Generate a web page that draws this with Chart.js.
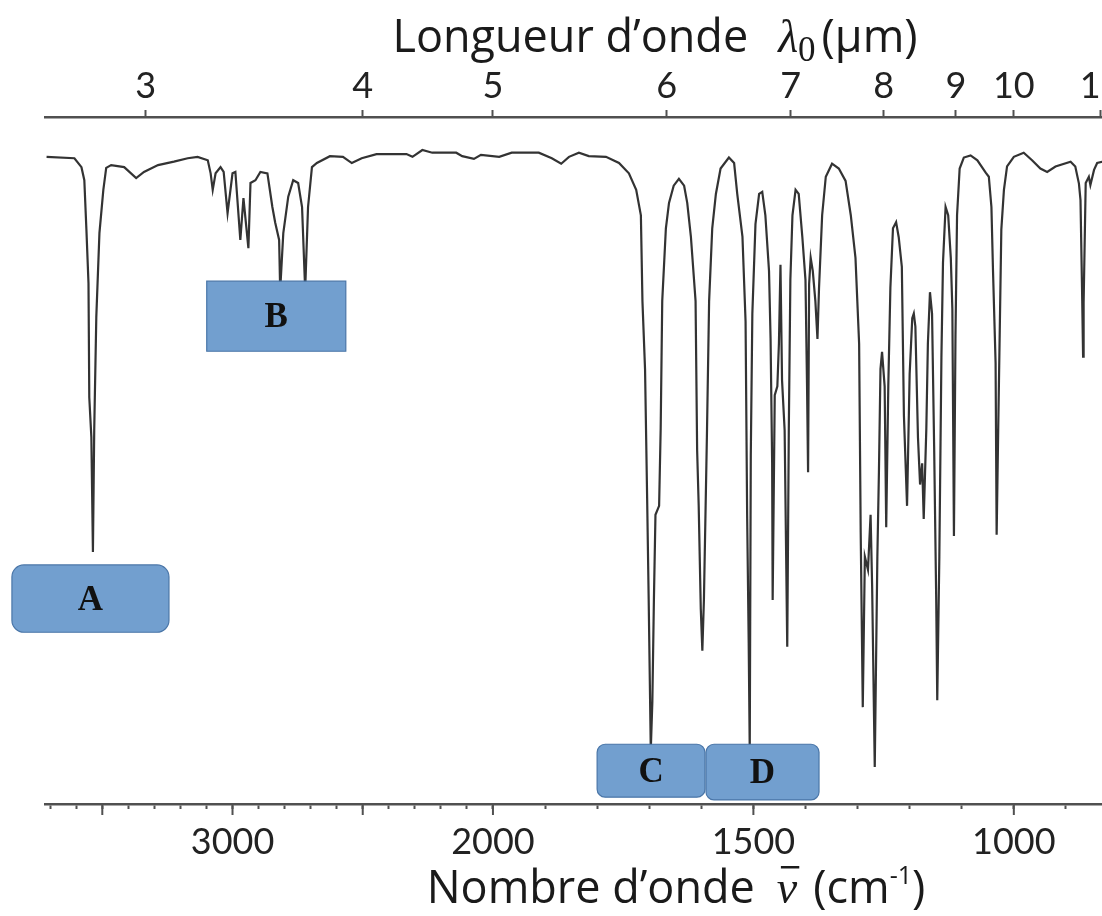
<!DOCTYPE html>
<html>
<head>
<meta charset="utf-8">
<title>Spectre IR</title>
<script src="https://cdn.jsdelivr.net/npm/chart.js@4.4.1/dist/chart.umd.min.js"></script>
<style>
    html, body { margin: 0; padding: 0; overflow: hidden; background: #fff; }
    #wrap { width: 1140px; height: 916px; }
</style>
</head>
<body>
<div id="wrap"><canvas id="spectre" width="1140" height="916"></canvas></div>
<script>
const waveNumbers = [
    3714, 3607, 3580, 3569, 3561, 3553, 3550, 3542, 3536, 3531,
    3523, 3511, 3496, 3485, 3466, 3416, 3370, 3340, 3286, 3225,
    3172, 3134, 3095, 3084, 3076, 3065, 3046, 3034, 3019, 3000,
    2989, 2970, 2958, 2939, 2931, 2912, 2893, 2866, 2847, 2836,
    2821, 2817, 2805, 2786, 2767, 2748, 2733, 2721, 2710, 2695,
    2676, 2626, 2576, 2542, 2504, 2447, 2332, 2309, 2271, 2233,
    2141, 2118, 2073, 2046, 1988, 1964, 1912, 1887, 1869, 1854,
    1835, 1816, 1783, 1758, 1739, 1725, 1716, 1713, 1708, 1704,
    1701, 1697, 1694, 1691, 1688, 1681, 1678, 1675, 1668, 1662,
    1653, 1643, 1633, 1627, 1620, 1611, 1608, 1605, 1601, 1598,
    1595, 1592, 1589, 1585, 1579, 1572, 1563, 1547, 1537, 1531,
    1521, 1515, 1512, 1509, 1507, 1505, 1502, 1496, 1489, 1483,
    1477, 1470, 1467, 1464, 1463, 1459, 1454, 1451, 1448, 1445,
    1440, 1435, 1432, 1429, 1425, 1419, 1413, 1406, 1400, 1397,
    1395, 1393, 1390, 1386, 1381, 1377, 1374, 1368, 1361, 1349,
    1336, 1323, 1313, 1304, 1297, 1294, 1290, 1286, 1280, 1275,
    1272, 1267, 1262, 1259, 1256, 1253, 1248, 1245, 1241, 1237,
    1232, 1226, 1221, 1215, 1211, 1205, 1200, 1195, 1192, 1189,
    1184, 1180, 1176, 1173, 1168, 1165, 1161, 1157, 1153, 1149,
    1147, 1143, 1139, 1136, 1131, 1126, 1121, 1118, 1115, 1112,
    1109, 1104, 1096, 1083, 1070, 1054, 1048, 1043, 1040, 1035,
    1033, 1030, 1027, 1024, 1019, 1013, 1000, 981, 965, 949,
    936, 920, 891, 882, 875, 872, 869, 867, 866, 862,
    856, 853, 846, 840, 818, 790
];

const transmittance = [
    94.2, 94.0, 92.7, 90.8, 83.6, 75.8, 59.2, 53.4, 36.7, 54.4,
    70.9, 83.1, 89.4, 92.6, 93.0, 92.7, 91.1, 92.0, 93.0, 93.5,
    94.0, 94.2, 93.7, 91.8, 89.4, 91.8, 92.7, 92.0, 86.0, 91.8,
    92.0, 82.1, 88.2, 80.9, 90.4, 90.8, 92.0, 91.8, 86.9, 84.6,
    82.1, 74.8, 83.1, 88.4, 90.8, 90.4, 86.9, 74.8, 86.9, 92.7,
    93.3, 94.3, 94.2, 93.3, 94.0, 94.6, 94.6, 94.2, 95.2, 94.8,
    94.8, 94.3, 93.9, 94.5, 94.2, 94.8, 94.8, 94.0, 93.2, 94.2,
    94.8, 94.3, 94.2, 93.3, 91.8, 89.4, 85.7, 73.2, 63.3, 44.6,
    29.7, 7.9, 14.8, 29.7, 42.1, 43.4, 54.6, 73.2, 83.8, 87.5,
    90.0, 91.0, 90.0, 87.5, 82.6, 73.2, 51.5, 43.4, 28.4, 22.3,
    29.7, 42.1, 54.6, 73.2, 83.8, 88.8, 92.5, 94.1, 93.3, 88.8,
    82.6, 70.2, 42.1, 23.4, 7.9, 50.8, 71.4, 84.4, 88.8, 89.1,
    85.7, 77.6, 67.7, 49.6, 29.7, 59.5, 60.8, 67.0, 78.5, 61.7,
    54.4, 22.9, 54.6, 76.3, 85.7, 89.4, 88.8, 82.5, 76.3, 60.8,
    48.3, 75.7, 79.5, 77.6, 73.2, 67.7, 75.1, 85.7, 91.3, 93.2,
    92.5, 90.7, 85.7, 79.5, 67.0, 39.6, 14.1, 36.0, 34.1, 42.1,
    31.6, 5.4, 36.0, 48.3, 63.3, 65.8, 60.8, 40.3, 60.8, 75.1,
    83.8, 84.7, 82.5, 78.2, 56.5, 43.4, 62.6, 70.7, 71.4, 69.5,
    53.3, 46.5, 49.6, 41.5, 54.6, 67.0, 74.5, 71.4, 52.1, 29.7,
    15.1, 36.0, 65.1, 78.8, 86.9, 85.7, 79.5, 72.0, 39.0, 68.3,
    85.7, 92.5, 94.1, 94.4, 93.7, 91.9, 91.3, 86.9, 77.7, 64.2,
    39.2, 54.4, 69.0, 83.6, 89.4, 92.8, 94.2, 94.8, 93.7, 92.5,
    92.0, 92.8, 93.5, 92.8, 90.3, 87.9, 74.8, 65.1, 72.9, 90.4,
    91.3, 90.1, 92.3, 93.3, 93.7, 93.7
];

// graduations
const labeledWaveNumbers = [3000, 2000, 1500, 1000];
const majorWaveNumbers = [3500, 3000, 2500, 2000, 1500, 1000];
const wavelengthTicks = [3, 4, 5, 6, 7, 8, 9, 10, 12];
const peakLabels = ['A', 'B', 'C', 'D'];

// changement d'echelle a 2000 cm-1 (echelle divisee par 2 au-dessus)
const toAxis = w => w <= 2000 ? w : 2000 + (w - 2000) / 2;
const fromAxis = u => u <= 2000 ? u : 2000 + (u - 2000) * 2;

const minorWaveNumbers = [];
for (let w = 3700; w >= 800; w -= 100) minorWaveNumbers.push(w);

const SANS = 'Lato, "Open Sans", sans-serif';
const TITLE = '"Open Sans", Lato, sans-serif';
const SERIF = '"Liberation Serif", "DejaVu Serif", serif';
const AXIS_COLOR = '#505050';

const points = waveNumbers.map((w, i) => ({ x: toAxis(w), y: transmittance[i] }));

// cadres des pics (en nombre d'onde / transmittance)
const boxes = [
    { text: peakLabels[0], w1: 3847, w2: 3244, t1: 34.8, t2: 25.0, r: 12 },
    { text: peakLabels[1], w1: 3099, w2: 2565, t1: 76.1, t2: 65.9, r: 0 },
    { text: peakLabels[2], w1: 1800, w2: 1593, t1: 8.7, t2: 1.0, r: 8 },
    { text: peakLabels[3], w1: 1591, w2: 1374, t1: 8.7, t2: 0.6, r: 8 }
];

function roundedRect(ctx, x, y, w, h, r) {
    ctx.beginPath();
    ctx.moveTo(x + r, y);
    ctx.lineTo(x + w - r, y);
    ctx.arcTo(x + w, y, x + w, y + r, r);
    ctx.lineTo(x + w, y + h - r);
    ctx.arcTo(x + w, y + h, x + w - r, y + h, r);
    ctx.lineTo(x + r, y + h);
    ctx.arcTo(x, y + h, x, y + h - r, r);
    ctx.lineTo(x, y + r);
    ctx.arcTo(x, y, x + r, y, r);
    ctx.closePath();
}

const boxPlugin = {
    id: 'peakBoxes',
    afterDatasetsDraw(chart) {
        const ctx = chart.ctx;
        const xs = chart.scales.x, ys = chart.scales.y;
        ctx.save();
        boxes.forEach(b => {
            const x1 = xs.getPixelForValue(toAxis(b.w1));
            const x2 = xs.getPixelForValue(toAxis(b.w2));
            const y1 = ys.getPixelForValue(b.t1);
            const y2 = ys.getPixelForValue(b.t2);
            roundedRect(ctx, x1, y1, x2 - x1, y2 - y1, b.r);
            ctx.fillStyle = '#729fcf';
            ctx.fill();
            ctx.lineWidth = 1.2;
            ctx.strokeStyle = '#4a76a8';
            ctx.stroke();
            ctx.fillStyle = '#111';
            ctx.font = 'bold 35px ' + SERIF;
            ctx.textAlign = 'center';
            ctx.textBaseline = 'middle';
            ctx.fillText(b.text, (x1 + x2) / 2, (y1 + y2) / 2 + 2);
        });
        ctx.restore();
    }
};

function drawRun(ctx, parts, cx, baseline) {
    let total = 0;
    parts.forEach(p => {
        ctx.font = p.font;
        p.w = ctx.measureText(p.text).width;
        total += p.w + (p.gap || 0);
    });
    let x = cx - total / 2;
    parts.forEach(p => {
        ctx.font = p.font;
        ctx.fillText(p.text, x, baseline + (p.dy || 0));
        if (p.bar) {
            ctx.fillRect(x + p.w * 0.2, baseline - 37, p.w * 0.9, 2.5);
        }
        x += p.w + (p.gap || 0);
    });
}

const axisPlugin = {
    id: 'axisExtras',
    afterDraw(chart) {
        const ctx = chart.ctx;
        const xs = chart.scales.x;
        const bottom = chart.chartArea.bottom;
        ctx.save();
        // graduations principales plus longues
        ctx.strokeStyle = AXIS_COLOR;
        ctx.lineWidth = 2;
        majorWaveNumbers.forEach(w => {
            const px = xs.getPixelForValue(toAxis(w));
            ctx.beginPath();
            ctx.moveTo(px, bottom);
            ctx.lineTo(px, bottom + 11);
            ctx.stroke();
        });
        // titres des axes
        ctx.fillStyle = '#1a1a1a';
        ctx.textAlign = 'left';
        ctx.textBaseline = 'alphabetic';
        drawRun(ctx, [
            { text: 'Longueur d\u2019onde', font: '45px ' + TITLE, gap: 30 },
            { text: '\u03bb', font: 'italic 46px ' + SERIF },
            { text: '0', font: '35px ' + SERIF, dy: 9, gap: 6 },
            { text: '(\u00b5m)', font: '45px ' + TITLE }
        ], 655, 52);
        drawRun(ctx, [
            { text: 'Nombre d\u2019onde', font: '45px ' + TITLE, gap: 22 },
            { text: '\u03bd', font: 'italic 46px ' + SERIF, bar: true, gap: 16 },
            { text: '(cm', font: '45px ' + TITLE },
            { text: '-1', font: '25px ' + TITLE, dy: -19 },
            { text: ')', font: '45px ' + TITLE }
        ], 676, 903);
        ctx.restore();
    }
};

const tickFont = { family: SANS, size: 36 };

new Chart(document.getElementById('spectre'), {
    type: 'line',
    data: {
        datasets: [{
            data: points,
            borderColor: '#333',
            borderWidth: 2.2,
            pointRadius: 0,
            tension: 0,
            fill: false
        }]
    },
    options: {
        responsive: false,
        animation: false,
        devicePixelRatio: 1,
        layout: { padding: { left: 45, right: 22, top: 0, bottom: 0 } },
        plugins: { legend: { display: false }, tooltip: { enabled: false } },
        scales: {
            x: {
                type: 'linear',
                position: 'bottom',
                reverse: true,
                min: toAxis(800),
                max: toAxis(3720),
                afterBuildTicks: s => { s.ticks = minorWaveNumbers.map(w => ({ value: toAxis(w) })); },
                afterFit: s => { s.height = 112; },
                grid: { drawOnChartArea: false, tickLength: 5, tickWidth: 2, tickColor: AXIS_COLOR },
                border: { color: AXIS_COLOR, width: 2.5 },
                ticks: {
                    autoSkip: false,
                    maxRotation: 0,
                    padding: 12,
                    color: '#222',
                    font: tickFont,
                    callback: v => {
                        const w = Math.round(fromAxis(v));
                        return labeledWaveNumbers.includes(w) ? String(w) : '';
                    }
                }
            },
            x2: {
                type: 'linear',
                position: 'top',
                reverse: true,
                min: toAxis(800),
                max: toAxis(3720),
                afterBuildTicks: s => { s.ticks = wavelengthTicks.map(l => ({ value: toAxis(10000 / l) })); },
                afterFit: s => { s.height = 117; },
                grid: { drawOnChartArea: false, tickLength: 7, tickWidth: 2, tickColor: AXIS_COLOR },
                border: { color: AXIS_COLOR, width: 2.5 },
                ticks: {
                    autoSkip: false,
                    maxRotation: 0,
                    padding: 2,
                    color: '#222',
                    font: tickFont,
                    callback: v => String(Math.round(10000 / fromAxis(v)))
                }
            },
            y: { display: false, min: 0, max: 100 }
        }
    },
    plugins: [boxPlugin, axisPlugin]
});
</script>
</body>
</html>
